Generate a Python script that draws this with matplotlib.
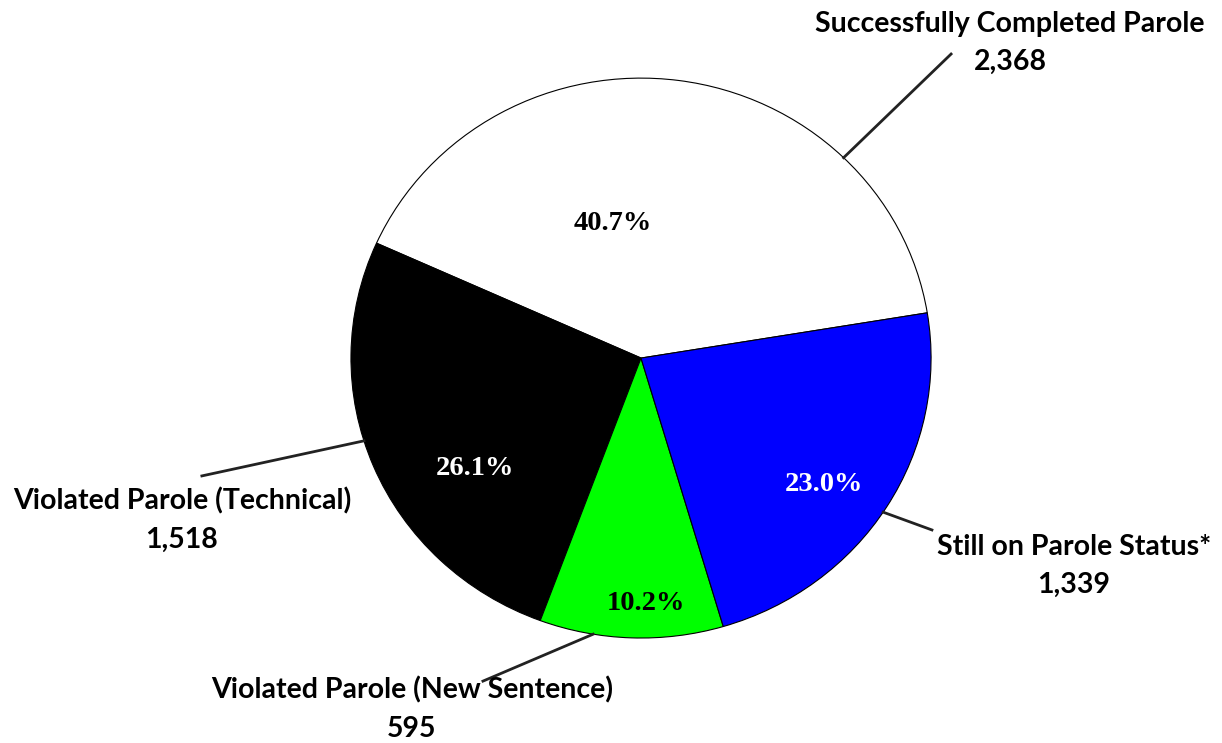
import matplotlib
matplotlib.use("Agg")
import matplotlib.pyplot as plt
import numpy as np

# parole outcomes (counter-clockwise from start angle)
labels = ["Successfully Completed Parole", "Violated Parole (Technical)",
          "Violated Parole (New Sentence)", "Still on Parole Status*"]
counts = [2368, 1518, 595, 1339]
pcts = ["40.7%", "26.1%", "10.2%", "23.0%"]
colors = ["white", "black", "#00ff00", "#0000ff"]
pct_colors = ["black", "white", "black", "white"]

fig = plt.figure(figsize=(12.22, 7.43), dpi=100)
ax = fig.add_axes([0, 0, 1, 1])
ax.pie(counts, colors=colors, startangle=9.3, counterclock=True,
       wedgeprops=dict(edgecolor="black", linewidth=0.8))
ax.set_aspect("auto")
ax.set_xlim(-2.210, 2.003)
ax.set_ylim(-1.375, 1.279)
ax.axis("off")

# percentage labels inside the slices
pct_pos = [(-0.097, 0.479), (-0.572, -0.393), (0.017, -0.875), (0.631, -0.45)]
for (x, y), p, c in zip(pct_pos, pcts, pct_colors):
    ax.text(x, y, p, ha="center", va="center", color=c, fontsize=20.5,
            fontweight="bold", family="Liberation Serif")

# leader lines: angle on the rim -> outer end
line_ang = [45.7, 197.2, 260.5, 326.6]
line_end = [(1.069, 1.086), (-1.514, -0.421), (-0.545, -1.154), (1.003, -0.614)]
for a, (ex, ey) in zip(line_ang, line_end):
    r = np.deg2rad(a)
    ax.plot([np.cos(r), ex], [np.sin(r), ey], color="#222222", lw=2)

# outside category labels with counts
lab_pos = [(1.272, 1.125), (-1.583, -0.579), (-0.790, -1.254), (1.493, -0.743)]
for (x, y), name, n in zip(lab_pos, labels, counts):
    ax.text(x, y, f"{name}\n{n:,}", ha="center", va="center", fontsize=20.5,
            fontweight="bold", family="Lato", linespacing=1.58)

fig.savefig("out.png", dpi=100)
